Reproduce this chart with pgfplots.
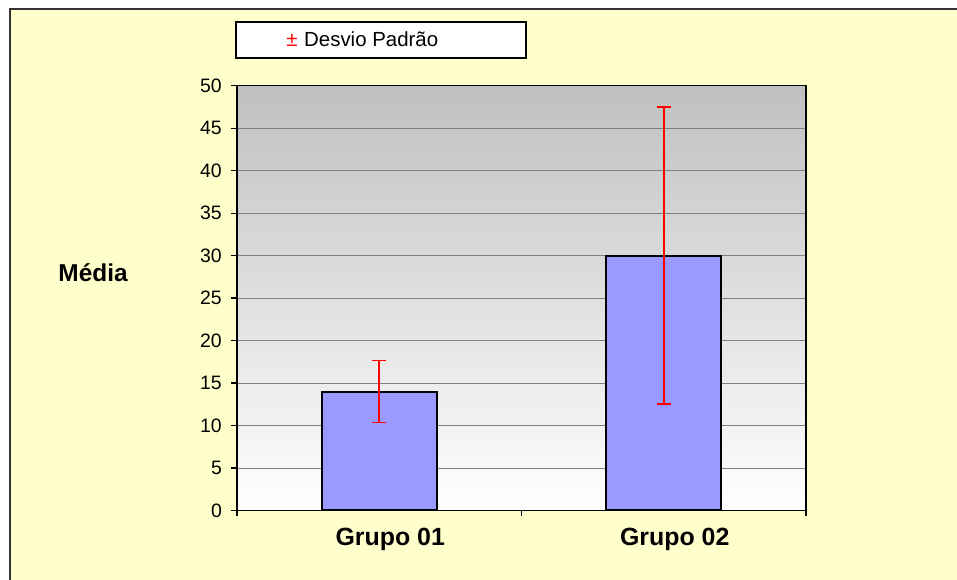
\documentclass[border=0pt]{standalone}
\usepackage{pgfplots}
\pgfplotsset{compat=1.18}
\usepackage{fontspec}
\setmainfont{Liberation Sans}
\definecolor{bgyellow}{HTML}{FFFFCC}
\definecolor{barblue}{HTML}{9999FF}
\definecolor{gridgray}{HTML}{808080}
\definecolor{topgray}{HTML}{C0C0C0}
\definecolor{framegray}{HTML}{333333}
\begin{document}
\begin{tikzpicture}[x=1bp,y=1bp]
\useasboundingbox (0,0) rectangle (957,580);
\fill[white] (0,0) rectangle (957,580);
\fill[bgyellow] (10,0) rectangle (957,571);
\draw[line width=2bp, framegray] (10,0) -- (10,571) -- (957,571);
% legend box
\draw[fill=white, line width=1.5bp] (236,522) rectangle (526,558);
\node[anchor=base, inner sep=0pt, text=red, font=\fontsize{20.5}{24}\selectfont] at (292,533.3) {±};
\node[anchor=base west, inner sep=0pt, font=\fontsize{20.5}{24}\selectfont] at (304,533.3) {Desvio Padrão};
% y label
\node[anchor=base west, inner sep=0pt, font=\fontsize{24.5}{28}\selectfont\bfseries] at (58.3,298.3) {Média};
\begin{axis}[
  at={(237bp,69.5bp)}, anchor=south west,
  width=569bp, height=424.8bp, scale only axis,
  xmin=-0.5, xmax=1.5, ymin=0, ymax=50,
  ytick={0,5,...,50},
  xtick={0,1},
  xticklabels={Grupo 01, Grupo 02},
  minor xtick={-0.5,0.5,1.5},
  major x tick style={draw=none},
  tick align=outside,
  tick pos=left,
  major tick length=6bp,
  minor tick length=6bp,
  ymajorgrids,
  major grid style={gridgray, line width=0.9bp},
  axis line style={black, line width=1.2bp},
  every tick/.style={black, line width=1.2bp},
  minor tick style={black, line width=1.2bp},
  /pgf/number format/assume math mode=true,
  yticklabel style={font=\fontsize{19.5}{22}\selectfont, anchor=east, inner sep=0pt, xshift=-9bp},
  xticklabel style={font=\fontsize{25}{28}\selectfont\bfseries, anchor=base, inner sep=0pt, yshift=-28.8bp, xshift=11bp},
  axis background/.style={top color=topgray, bottom color=white},
  ybar, bar width=115bp,
  clip=false,
]
\addplot[fill=barblue, draw=black, line width=2bp,
  error bars/.cd, y dir=both, y explicit,
  error bar style={red, line width=1.8bp},
  error mark options={rotate=90, red, mark size=7bp, line width=1.8bp}]
  coordinates {(0,14) +- (0,3.65) (1,30) +- (0,17.5)};
\end{axis}
\end{tikzpicture}
\end{document}
